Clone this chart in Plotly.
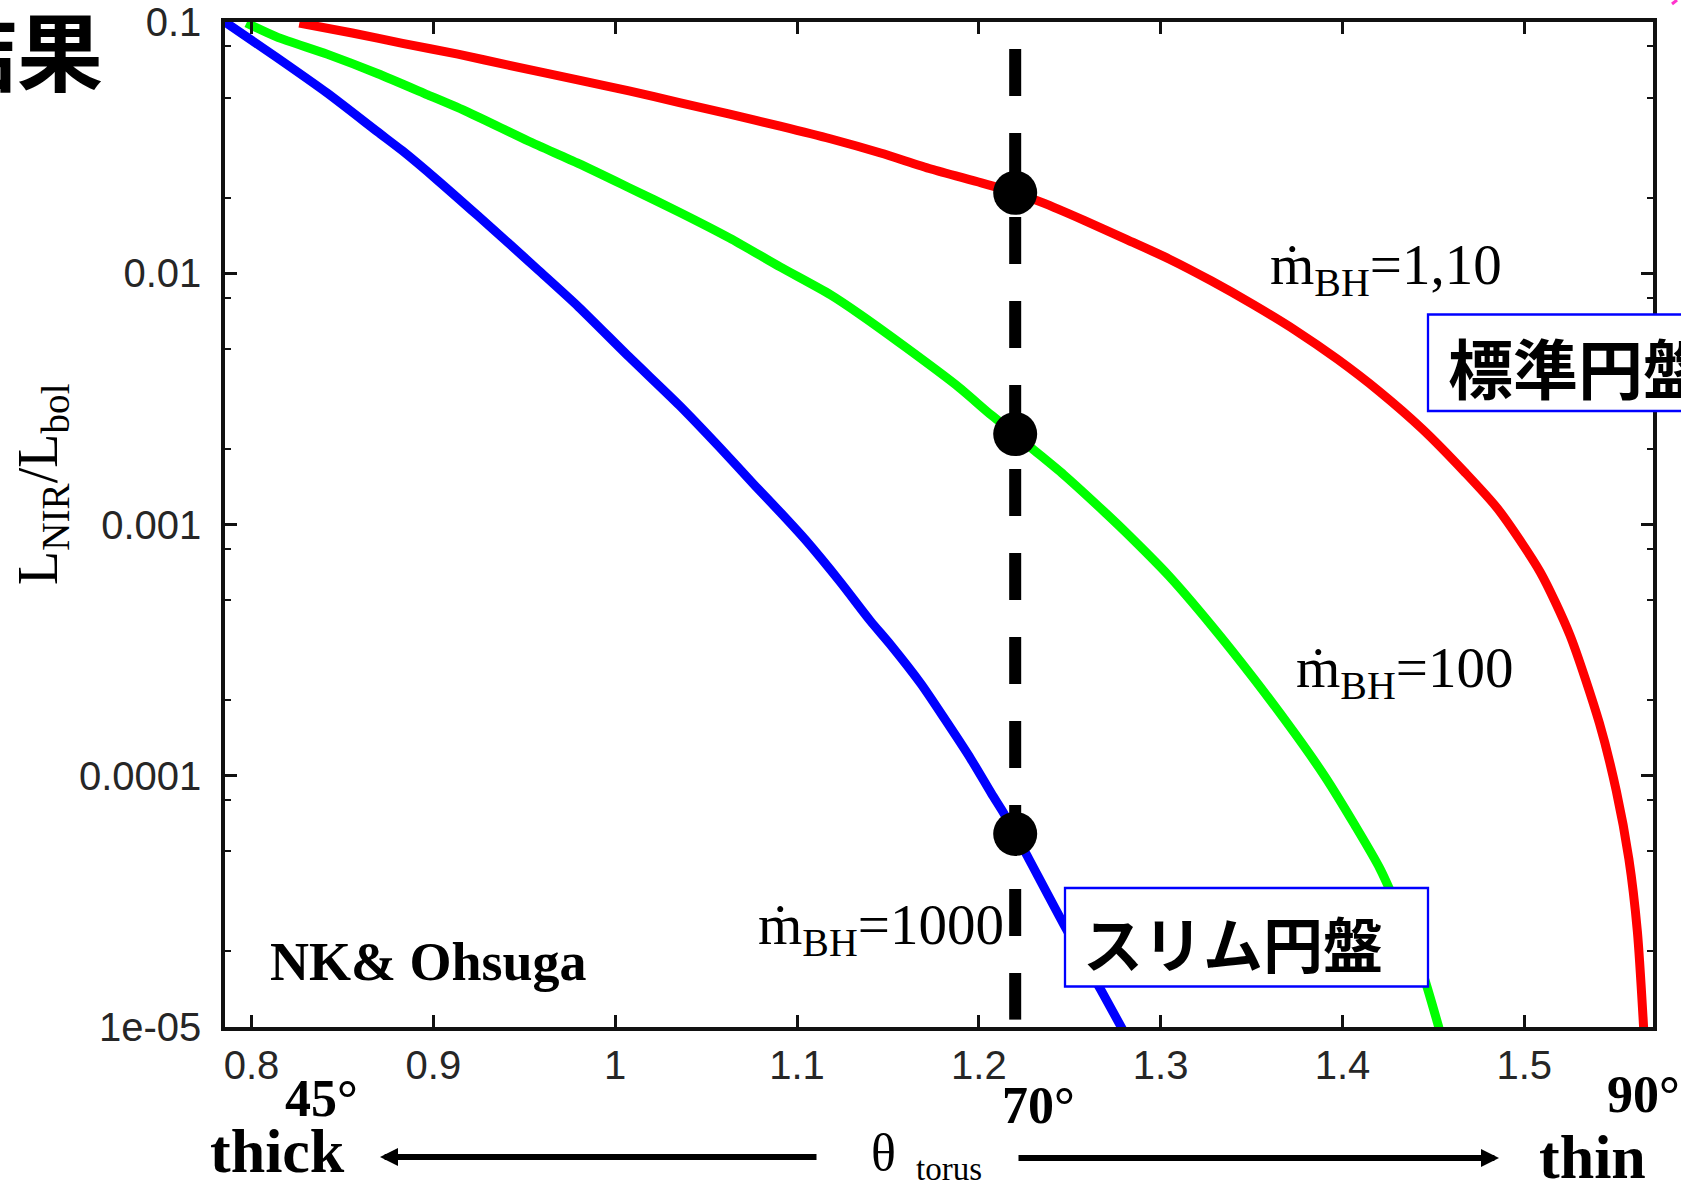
import math
import plotly.graph_objects as go

# ---------------- data ----------------
red_x = [0.8263, 0.8554, 0.8830, 0.9135, 0.9412, 0.9800, 1.0076, 1.0353, 1.0630, 1.0907,
         1.1183, 1.1460, 1.1737, 1.2014, 1.2200, 1.2350, 1.2582, 1.2814, 1.3046, 1.3278,
         1.3510, 1.3742, 1.3974, 1.4206, 1.4439, 1.4671, 1.4856, 1.5088, 1.5251, 1.5413,
         1.5506, 1.5575, 1.5622, 1.5657]
red_y = [0.0991, 0.0904, 0.0822, 0.0745, 0.0673, 0.0587, 0.0532, 0.0478, 0.0430, 0.0385,
         0.0343, 0.0301, 0.0260, 0.0229, 0.0209, 0.0191, 0.0162, 0.0136, 0.0114, 0.00933,
         0.00750, 0.00592, 0.00454, 0.00337, 0.00240, 0.00162, 0.00115, 0.000646, 0.000363, 0.000162,
         8.71e-5, 4.68e-5, 2.40e-5, 9.77e-6]

green_x = [0.7972, 0.8138, 0.8415, 0.8692, 0.8969, 0.9190, 0.9522, 0.9800, 1.0076, 1.0353,
           1.0630, 1.0907, 1.1183, 1.1349, 1.1599, 1.1875, 1.2070, 1.2200, 1.2281, 1.2466,
           1.2698, 1.2814, 1.3046, 1.3278, 1.3510, 1.3742, 1.3905, 1.4067, 1.4206, 1.4323,
           1.4439, 1.4531]
green_y = [0.0991, 0.0873, 0.0745, 0.0624, 0.0513, 0.0438, 0.0336, 0.0273, 0.0219, 0.0175,
           0.0138, 0.0106, 0.00822, 0.00684, 0.00507, 0.00359, 0.00272, 0.00229, 0.00204, 0.00158,
           0.00111, 0.000923, 0.000624, 0.000398, 0.000245, 0.000146, 9.89e-5, 6.38e-5, 4.27e-5, 2.75e-5,
           1.66e-5, 9.9e-6]

blue_x = [0.7854, 0.8138, 0.8415, 0.8692, 0.8830, 0.9024, 0.9246, 0.9412, 0.9578, 0.9800,
          1.0076, 1.0353, 1.0574, 1.0768, 1.0907, 1.1045, 1.1239, 1.1405, 1.1516, 1.1682,
          1.1820, 1.1958, 1.2069, 1.2138, 1.2200, 1.2258, 1.2466, 1.2670, 1.2791]
blue_y = [0.1, 0.0723, 0.0522, 0.0366, 0.0307, 0.0234, 0.0169, 0.0132, 0.01028, 0.00733,
          0.00465, 0.00298, 0.00203, 0.00143, 0.00112, 0.000871, 0.000589, 0.000412, 0.000331, 0.000232,
          0.000165, 0.000116, 8.51e-5, 7.08e-5, 5.87e-5, 4.92e-5, 2.57e-5, 1.41e-5, 9.77e-6]

dot_x = [1.22, 1.22, 1.22]
dot_y = [0.0209, 0.00229, 5.87e-5]

vline_x = [1.22, 1.22]
vline_y = [0.078, 1.07e-5]

x_tickvals = [0.8, 0.9, 1.0, 1.1, 1.2, 1.3, 1.4, 1.5]
x_ticktext = ["0.8", "0.9", "1", "1.1", "1.2", "1.3", "1.4", "1.5"]
y_tickvals = [1e-5, 1e-4, 1e-3, 1e-2, 1e-1]
y_ticktext = ["1e-05", "0.0001", "0.001", "0.01", "0.1"]
y_minorvals = [2e-5, 5e-5, 8e-5, 2e-4, 5e-4, 8e-4, 2e-3, 5e-3, 8e-3, 2e-2, 5e-2, 8e-2]

label_red = "\u1e41<sub>BH</sub>=1,10"
label_green = "\u1e41<sub>BH</sub>=100"
label_blue = "\u1e41<sub>BH</sub>=1000"

# ---------------- layout geometry ----------------
W, H = 1681, 1183
L, R, T, B = 225, 1653, 22, 1027


def px(x):
    return (x - L) / (R - L)


def py(y):
    return (B - y) / (B - T)


SERIF = "Liberation Serif"
SANS = "Liberation Sans"
CJK = "Noto Sans CJK JP"

fig = go.Figure()
curve_line = dict(width=9, shape="spline", smoothing=0.7)
fig.add_trace(go.Scatter(x=red_x, y=red_y, mode="lines",
                         line=dict(color="#ff0000", **curve_line), showlegend=False))
fig.add_trace(go.Scatter(x=green_x, y=green_y, mode="lines",
                         line=dict(color="#00ff00", **curve_line), showlegend=False))
fig.add_trace(go.Scatter(x=blue_x, y=blue_y, mode="lines",
                         line=dict(color="#0000ff", **curve_line), showlegend=False))
fig.add_trace(go.Scatter(x=vline_x, y=vline_y, mode="lines",
                         line=dict(color="black", width=12, dash="47px,37px"), showlegend=False))
fig.add_trace(go.Scatter(x=dot_x, y=dot_y, mode="markers",
                         marker=dict(color="black", size=44, line=dict(width=0)), showlegend=False))

axis_common = dict(
    showline=True, linecolor="#111111", linewidth=3.5, mirror="ticks",
    ticks="inside", ticklen=12, tickwidth=2.5, tickcolor="#111111",
    showgrid=False, zeroline=False, automargin=False,
    tickfont=dict(family=SANS, size=40, color="#262626"),
)

fig.update_xaxes(range=[math.pi / 4, math.pi / 2], tickmode="array",
                 tickvals=x_tickvals, ticktext=x_ticktext, ticklabelstandoff=0, **axis_common)
fig.update_yaxes(type="log", range=[-5, -1], tickmode="array",
                 tickvals=y_tickvals, ticktext=y_ticktext, ticklabelstandoff=12,
                 minor=dict(tickmode="array", tickvals=y_minorvals, ticks="inside",
                            ticklen=6, tickwidth=2, tickcolor="#111111", showgrid=False),
                 **axis_common)

shapes = [
    # box for スリム円盤
    dict(type="rect", xref="paper", yref="paper", x0=px(1065), x1=px(1428), y0=py(986.5), y1=py(888),
         line=dict(color="#0000ff", width=2.3), fillcolor="white", layer="above"),
    # box for 標準円盤 (runs off the right edge)
    dict(type="rect", xref="paper", yref="paper", x0=px(1428), x1=px(1740), y0=py(411), y1=py(314.5),
         line=dict(color="#0000ff", width=2.3), fillcolor="white", layer="above"),
    # tiny magenta mark in the top-right corner
    dict(type="line", xref="paper", yref="paper", x0=px(1672), x1=px(1677), y0=py(4), y1=py(0),
         line=dict(color="#ff33cc", width=3)),
]

annotations = []


def ann(text, x, y, size, family, weight="normal", xanchor="center", yanchor="middle",
        textangle=0, color="black"):
    annotations.append(dict(text=text, x=px(x), y=py(y), xref="paper", yref="paper",
                            showarrow=False, xanchor=xanchor, yanchor=yanchor,
                            textangle=textangle, borderpad=0,
                            font=dict(family=family, size=size, color=color, weight=weight)))


ann("結果", 104, 47, 86, CJK, weight="bold", xanchor="right")
ann("L<sub>NIR</sub>/L<sub>bol</sub>", 42, 484, 56, SERIF, textangle=-90)
ann(label_red, 1269, 269, 57, SERIF, xanchor="left")
ann(label_green, 1295, 672, 57, SERIF, xanchor="left")
ann(label_blue, 757, 929, 57, SERIF, xanchor="left")
ann("NK&amp; Ohsuga", 269, 962, 54, SERIF, weight="bold", xanchor="left")
ann("標準円盤", 1447, 366, 65, CJK, weight="bold", xanchor="left")
ann("スリム円盤", 1233, 941, 60, CJK, weight="bold")
ann("45°", 321, 1098, 52, SERIF, weight="bold")
ann("70°", 1038, 1106, 52, SERIF, weight="bold")
ann("90°", 1643, 1094, 52, SERIF, weight="bold")
ann("thick", 277, 1151, 62, SERIF, weight="bold")
ann("thin", 1592, 1157, 62, SERIF, weight="bold")
ann("θ", 883, 1152, 52, SERIF)
ann("torus", 949, 1169, 33, SERIF)

# arrows under the axis
annotations.append(dict(text="", x=px(380), y=py(1157), xref="paper", yref="paper",
                        showarrow=True, ax=438, ay=0, axref="pixel", ayref="pixel",
                        arrowhead=2, arrowsize=0.6, arrowwidth=6, arrowcolor="black"))
annotations.append(dict(text="", x=px(1499), y=py(1158), xref="paper", yref="paper",
                        showarrow=True, ax=-482, ay=0, axref="pixel", ayref="pixel",
                        arrowhead=2, arrowsize=0.6, arrowwidth=6, arrowcolor="black"))

fig.update_layout(
    width=W, height=H,
    margin=dict(l=L, r=W - R, t=T, b=H - B, pad=0, autoexpand=False),
    paper_bgcolor="white", plot_bgcolor="white",
    shapes=shapes, annotations=annotations,
    showlegend=False,
)

fig.write_html("out.html", config={"displayModeBar": False},
               post_script="document.body.style.margin='0px';")
